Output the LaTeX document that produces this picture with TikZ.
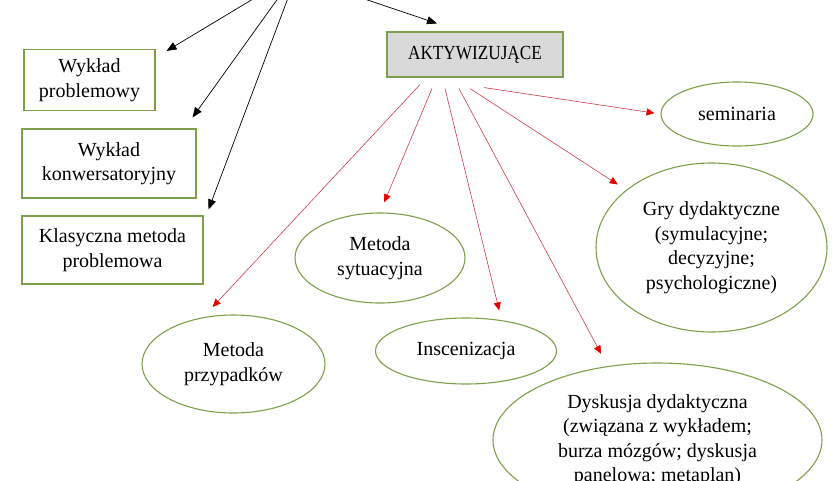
\documentclass[tikz,border=0pt]{standalone}
\usepackage{fontspec}
\setmainfont{Liberation Serif}
\newfontfamily\aktfont[FakeStretch=0.86]{Liberation Serif}
\usepackage{xcolor}
\usepackage{tikz}
\usetikzlibrary{shapes}
\usetikzlibrary{arrows.meta}
\usetikzlibrary{positioning}

\definecolor{olivegreen}{RGB}{125,160,75}
\definecolor{boxgray}{RGB}{217,217,217}
\definecolor{linered}{RGB}{205,60,75}
\definecolor{tipred}{RGB}{230,0,0}

\begin{document}
\begin{tikzpicture}[x=1pt,y=-1pt]
    \useasboundingbox (0,0) rectangle (840,480);
    \clip (0,0) rectangle (840,480);
    \begin{scope}[every node/.style={rectangle,draw=olivegreen,line width=1.1pt,inner sep=0pt,align=center,font=\fontsize{20}{24.5}\selectfont}]
      \node (wp) [minimum width=131pt,minimum height=61pt] at (89.5,80) {Wykład\\problemowy};
      \node (wk) [minimum width=174pt,minimum height=69pt] at (109,163.5) {Wykład\\konwersatoryjny};
      \node (kmp) [minimum width=181pt,minimum height=68pt] at (112.5,250) {Klasyczna metoda\\problemowa};
      \node (akt) [fill=boxgray,minimum width=176pt,minimum height=45pt,font=\aktfont\fontsize{20}{24}\selectfont] at (475,54.5) {AKTYWIZUJĄCE};
    \end{scope}
    \begin{scope}[every node/.style={ellipse,draw=olivegreen,line width=1.1pt,inner sep=0pt,align=center,font=\fontsize{20}{24.5}\selectfont}]
      \node (sem) [minimum width=152pt,minimum height=64pt] at (737,114) {seminaria};
      \node (gry) [minimum width=231pt,minimum height=169pt] at (711.5,247.5) {Gry dydaktyczne\\(symulacyjne;\\decyzyjne;\\psychologiczne)};
      \node (sytu) [minimum width=170pt,minimum height=90pt] at (380,258) {Metoda\\sytuacyjna};
      \node (przyp) [minimum width=183pt,minimum height=98pt] at (233.5,364) {Metoda\\przypadków};
      \node (insc) [minimum width=181pt,minimum height=66pt] at (466,351) {Inscenizacja};
      \node (dysk) [minimum width=329pt,minimum height=154pt] at (657.5,440) {Dyskusja dydaktyczna\\(związana z wykładem;\\burza mózgów; dyskusja\\panelowa; metaplan)};
    \end{scope}
    % free ends above the frame
    \coordinate (s1) at (268,-10);
    \coordinate (s2) at (284,-10);
    \coordinate (s3) at (291,-10);
    \coordinate (s4) at (338,-10);
    \begin{scope}[every edge/.style={draw=black,line width=0.7pt,-{Triangle[length=10pt,width=8pt]}}]
      \path (s1) edge ([xshift=11pt,yshift=-2pt]wp.north east);
      \path (s2) edge ([xshift=-4pt,yshift=11pt]wk.north east);
      \path (s3) edge ([xshift=5pt,yshift=6pt]kmp.north east);
      \path (s4) edge ([xshift=-38pt,yshift=8pt]akt.north);
    \end{scope}
    \begin{scope}[every edge/.style={draw=linered,line width=0.6pt,-{Triangle[length=8pt,width=7pt,color=tipred]}}]
      \path ([xshift=-55pt,yshift=-7pt]akt.south) edge[shorten >=14pt] (przyp.123);
      \path ([xshift=-43pt,yshift=-11pt]akt.south) edge[shorten >=11pt] (sytu.north);
      \path ([xshift=-30pt,yshift=-11pt]akt.south) edge[shorten >=10pt] (insc.41);
      \path ([xshift=-16pt,yshift=-11pt]akt.south) edge[shorten >=14pt] (dysk.124);
      \path ([xshift=-5pt,yshift=-11pt]akt.south) edge[shorten >=10pt] (gry.146);
      \path ([xshift=9pt,yshift=-10pt]akt.south) edge[shorten >=6pt] (sem.west);
    \end{scope}
\end{tikzpicture}
\end{document}
